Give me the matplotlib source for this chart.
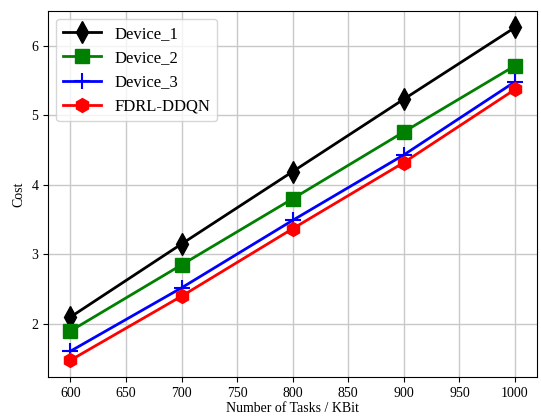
import matplotlib
matplotlib.use("Agg")
import matplotlib.pyplot as plt

plt.rcParams['font.family'] = ['Liberation Serif', 'DejaVu Serif']

tasks = [600, 700, 800, 900, 1000]
device_1 = [2.10, 3.15, 4.19, 5.23, 6.26]
device_2 = [1.90, 2.85, 3.80, 4.76, 5.71]
device_3 = [1.61, 2.52, 3.49, 4.43, 5.48]
fdrl_ddqn = [1.48, 2.40, 3.37, 4.32, 5.37]

fig, ax = plt.subplots(figsize=(5.41, 4.16), dpi=100)

ax.plot(tasks, device_1, color='black', marker='d', markersize=11, linewidth=2, label='Device_1')
ax.plot(tasks, device_2, color='green', marker='s', markersize=10, linewidth=2, label='Device_2')
ax.plot(tasks, device_3, color='blue', marker='+', markersize=12, markeredgewidth=1.5, linewidth=2, label='Device_3')
ax.plot(tasks, fdrl_ddqn, color='red', marker='h', markersize=10, linewidth=2, label='FDRL-DDQN')

ax.set_xlabel('Number of Tasks / KBit', fontsize=10, labelpad=2)
ax.set_ylabel('Cost', fontsize=10)
ax.tick_params(labelsize=10)
ax.grid(True, linewidth=1, color='#c8c8c8')
ax.legend(loc='upper left', fontsize=12, handlelength=2.3)

fig.subplots_adjust(left=0.089, right=0.993, top=0.974, bottom=0.094)
fig.savefig('out.png', dpi=100)
